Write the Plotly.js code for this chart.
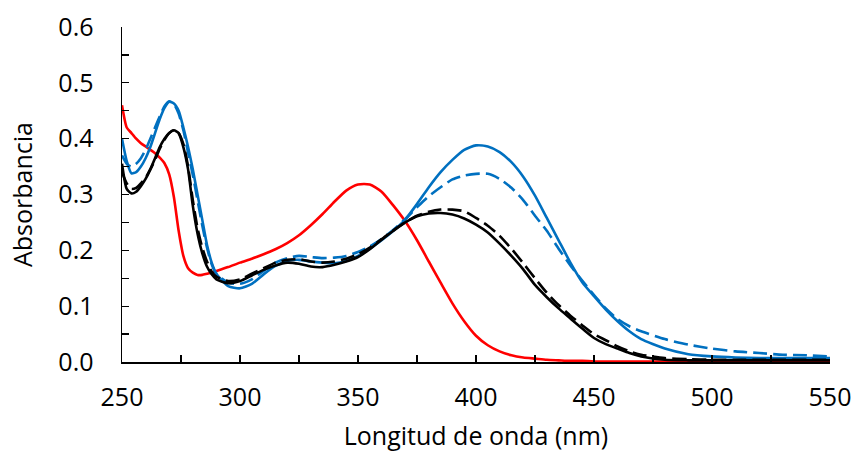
<!DOCTYPE html>
<html>
<head>
<meta charset="utf-8">
<script src="https://cdn.plot.ly/plotly-3.0.1.min.js"></script>
<style>html,body{margin:0;padding:0;background:#fff;}#chart{width:861px;height:457px;}</style>
</head>
<body>
<div id="chart"></div>
<script>
// Wavelength (nm)
const wavelength = [250,252,254,256,258,260,262,264,266,268,270,272,274,276,278,280,282,284,286,288,290,295,300,305,310,315,320,325,330,335,340,345,350,355,360,365,370,375,380,385,390,395,400,405,410,415,420,425,430,435,440,445,450,455,460,465,470,480,490,500,510,520,530,540,550];

const redSolid = [0.46,0.42,0.41,0.40,0.392,0.386,0.38,0.374,0.366,0.356,0.336,0.295,0.235,0.19,0.168,0.16,0.156,0.156,0.158,0.16,0.163,0.17,0.178,0.185,0.193,0.202,0.213,0.227,0.245,0.265,0.287,0.307,0.318,0.318,0.305,0.28,0.252,0.218,0.18,0.142,0.105,0.073,0.047,0.03,0.019,0.012,0.008,0.006,0.004,0.003,0.002,0.002,0.001,0.001,0.001,0.001,0.001,0.001,0.001,0.001,0.001,0.001,0.001,0.001,0.001];

const blackSolid = [0.355,0.31,0.302,0.305,0.315,0.328,0.345,0.365,0.385,0.40,0.41,0.415,0.41,0.385,0.345,0.28,0.23,0.195,0.171,0.157,0.148,0.141,0.145,0.155,0.165,0.173,0.178,0.176,0.171,0.17,0.174,0.18,0.188,0.202,0.219,0.235,0.25,0.261,0.266,0.267,0.264,0.257,0.246,0.232,0.212,0.19,0.166,0.138,0.116,0.096,0.078,0.06,0.043,0.032,0.024,0.016,0.01,0.004,0.003,0.003,0.003,0.003,0.003,0.003,0.003];

const blackDashed = [0.34,0.32,0.31,0.312,0.32,0.33,0.345,0.362,0.382,0.398,0.41,0.415,0.41,0.39,0.35,0.29,0.24,0.205,0.18,0.162,0.153,0.145,0.148,0.158,0.168,0.178,0.183,0.184,0.18,0.178,0.18,0.185,0.193,0.205,0.22,0.236,0.25,0.262,0.269,0.273,0.273,0.27,0.258,0.244,0.226,0.203,0.177,0.15,0.124,0.102,0.083,0.066,0.05,0.039,0.028,0.019,0.013,0.007,0.005,0.004,0.004,0.004,0.004,0.004,0.004];

const blueSolid = [0.40,0.36,0.338,0.34,0.35,0.365,0.385,0.41,0.435,0.455,0.466,0.463,0.45,0.42,0.385,0.345,0.3,0.255,0.21,0.178,0.158,0.136,0.132,0.14,0.157,0.172,0.181,0.183,0.18,0.178,0.177,0.181,0.19,0.203,0.218,0.235,0.255,0.283,0.313,0.34,0.362,0.38,0.388,0.386,0.376,0.358,0.332,0.298,0.258,0.218,0.178,0.143,0.118,0.094,0.073,0.055,0.041,0.024,0.014,0.01,0.008,0.007,0.007,0.007,0.007];

const blueDashed = [0.37,0.355,0.35,0.355,0.365,0.38,0.40,0.42,0.44,0.458,0.467,0.462,0.445,0.415,0.375,0.335,0.29,0.245,0.205,0.175,0.158,0.142,0.14,0.148,0.163,0.178,0.186,0.19,0.188,0.186,0.187,0.19,0.197,0.207,0.22,0.237,0.256,0.277,0.297,0.313,0.327,0.334,0.337,0.337,0.328,0.312,0.29,0.262,0.235,0.203,0.173,0.146,0.12,0.096,0.077,0.064,0.055,0.041,0.031,0.024,0.019,0.016,0.013,0.012,0.01];

const xTickVals = [250,300,350,400,450,500,550];
const yTickVals = [0,0.1,0.2,0.3,0.4,0.5,0.6];
const yTickText = ["0.0","0.1","0.2","0.3","0.4","0.5","0.6"];

function tr(y, color, dash) {
  return {x: wavelength, y: y, type: 'scatter', mode: 'lines',
    line: {color: color, width: 2.6, dash: dash, shape: 'spline', smoothing: 0.6},
    hoverinfo: 'skip', showlegend: false};
}

const data = [
  tr(redSolid, '#FF0000', 'solid'),
  tr(blueDashed, '#0070C0', '14px,6px'),
  tr(blueSolid, '#0070C0', 'solid'),
  tr(blackDashed, '#000000', '14px,6px'),
  tr(blackSolid, '#000000', 'solid')
];

const font = {family: 'Open Sans, sans-serif', size: 25, color: '#000'};

const layout = {
  width: 861, height: 457,
  margin: {l: 122, r: 31, t: 27, b: 95, pad: 0},
  paper_bgcolor: '#fff', plot_bgcolor: '#fff',
  font: font,
  showlegend: false,
  xaxis: {
    range: [250, 550], tickmode: 'array', tickvals: xTickVals,
    ticks: 'inside', ticklen: 7, tickwidth: 1.3, tickcolor: '#000',
    minor: {dtick: 25, ticks: 'inside', ticklen: 7, tickwidth: 1.3, tickcolor: '#000', showgrid: false},
    showline: true, linecolor: '#000', linewidth: 1.5,
    showgrid: false, zeroline: false,
    tickfont: font, ticklabelstandoff: 12,
    title: {text: 'Longitud de onda (nm)', font: font, standoff: 16}
  },
  yaxis: {
    range: [0, 0.6], tickmode: 'array', tickvals: yTickVals, ticktext: yTickText,
    ticks: 'inside', ticklen: 7, tickwidth: 1.3, tickcolor: '#000',
    minor: {dtick: 0.05, ticks: 'inside', ticklen: 7, tickwidth: 1.3, tickcolor: '#000', showgrid: false},
    showline: true, linecolor: '#000', linewidth: 1.5,
    showgrid: false, zeroline: false,
    tickfont: font, ticklabelstandoff: 22,
    title: {text: 'Absorbancia', font: font, standoff: 18}
  }
};

Plotly.newPlot('chart', data, layout, {displayModeBar: false, staticPlot: true});
</script>
</body>
</html>
